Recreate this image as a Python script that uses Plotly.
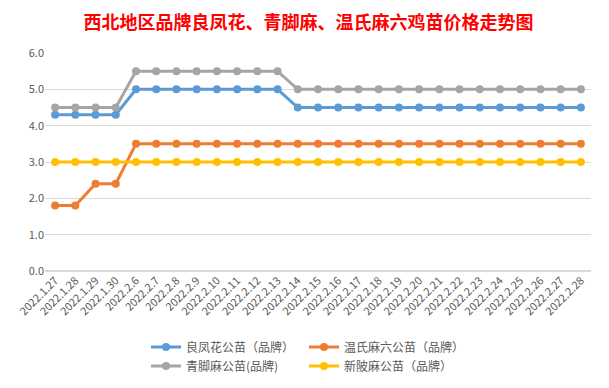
import plotly.graph_objects as go

categories = ["2022.1.27", "2022.1.28", "2022.1.29", "2022.1.30"] + [f"2022.2.{d}" for d in range(6, 29)]

liangfenghua = [4.3, 4.3, 4.3, 4.3] + [5.0] * 8 + [4.5] * 15
wenshi = [1.8, 1.8, 2.4, 2.4] + [3.5] * 23
qingjiao = [4.5, 4.5, 4.5, 4.5] + [5.5] * 8 + [5.0] * 15
xinpi = [3.0] * 27

series = [
    ("良凤花公苗（品牌）", liangfenghua, "#5B9BD5", "legend"),
    ("温氏麻六公苗（品牌）", wenshi, "#ED7D31", "legend"),
    ("青脚麻公苗(品牌)", qingjiao, "#A5A5A5", "legend2"),
    ("新陂麻公苗（品牌）", xinpi, "#FFC000", "legend2"),
]

y_ticks = [0, 1, 2, 3, 4, 5, 6]

fig = go.Figure()
for name, vals, color, lg in series:
    fig.add_trace(go.Scatter(
        x=categories, y=vals, name=name, mode="lines+markers",
        line=dict(color=color, width=3),
        marker=dict(color=color, size=8),
        legend=lg,
    ))

# page body has an 8px offset in the browser; size the figure to fit the window
OFF = 8
W, H = 609 - OFF, 388 - OFF
ml, mr, mt, mb = 45 - OFF, 18, 53 - OFF, 117
pw, ph = W - ml - mr, H - mt - mb

legend_common = dict(
    orientation="h", xref="container", x=(146 - OFF) / W, xanchor="left",
    yref="container", yanchor="middle",
    entrywidth=113, entrywidthmode="pixels",
    font=dict(size=12, color="#595959"),
    itemwidth=30, bgcolor="rgba(0,0,0,0)",
)

fig.update_layout(
    width=W, height=H,
    margin=dict(l=ml, r=mr, t=mt, b=mb, autoexpand=False),
    paper_bgcolor="white", plot_bgcolor="white",
    font=dict(family="Noto Sans CJK SC, sans-serif", color="#595959", size=11),
    title=dict(
        text="<b>西北地区品牌良凤花、青脚麻、温氏麻六鸡苗价格走势图</b>",
        x=0.5, xanchor="center", y=1 - (23 - OFF) / H, yanchor="middle",
        font=dict(size=18, color="#FF0000", family="Noto Sans CJK SC, sans-serif"),
    ),
    xaxis=dict(
        type="category", tickangle=-45, showgrid=False, showline=False,
        ticks="", tickfont=dict(size=11, color="#595959"),
        range=[-0.5, len(categories) - 0.5], automargin=False,
    ),
    yaxis=dict(
        range=[0, 6], tickvals=y_ticks, tickformat=".1f",
        showgrid=True, gridcolor="#D9D9D9", gridwidth=1,
        zeroline=True, zerolinecolor="#D9D9D9", showline=False,
        tickfont=dict(size=11, color="#595959"), ticks="", automargin=False,
    ),
    legend=dict(legend_common, y=1 - (347 - OFF) / H),
    legend2=dict(legend_common, y=1 - (366 - OFF) / H),
    showlegend=True,
)

fig.write_html("out.html")
